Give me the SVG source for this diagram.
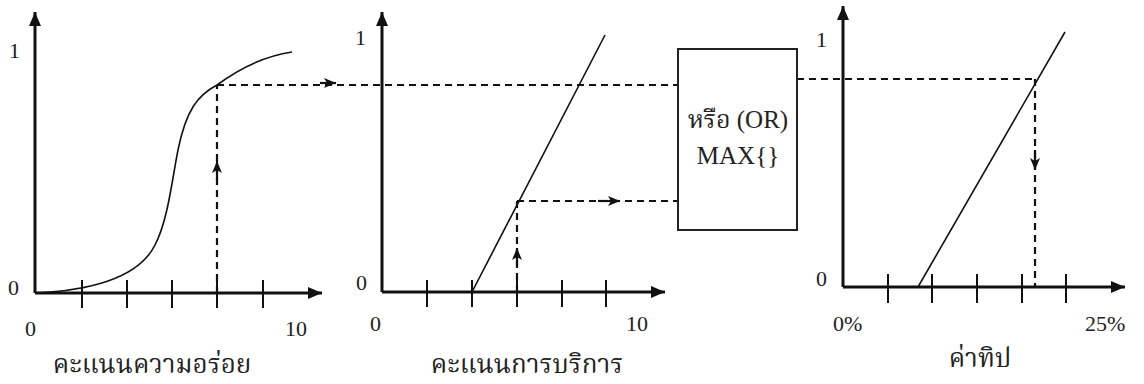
<svg xmlns="http://www.w3.org/2000/svg" width="1144" height="384" viewBox="0 0 1144 384">
<defs>
<marker id="ah" viewBox="0 0 12 10" refX="12" refY="5" markerWidth="12" markerHeight="10" markerUnits="userSpaceOnUse" orient="auto"><path d="M0,0 L12,5 L0,10 L3,5 z" fill="#111"/></marker>
<marker id="ax" viewBox="0 0 14 12" refX="14" refY="6" markerWidth="14" markerHeight="12" markerUnits="userSpaceOnUse" orient="auto"><path d="M0,0 L14,6 L0,12 z" fill="#111"/></marker>
</defs>
<style>
.axis{stroke:#111;stroke-width:3;fill:none}
.tick{stroke:#111;stroke-width:2}
.curve{stroke:#111;stroke-width:1.6;fill:none}
.dash{stroke:#111;stroke-width:2.2;stroke-dasharray:7 5;fill:none}
.arr{stroke:#111;stroke-width:2.2}
.num{font-family:"Liberation Serif","Noto Serif Thai","Noto Sans Thai",serif;font-size:22px;fill:#222}
.title{font-family:"Liberation Serif","Noto Serif Thai","Noto Sans Thai","DejaVu Sans",serif;font-size:26px;fill:#222;text-anchor:middle}
.box{fill:#fff;stroke:#222;stroke-width:2}
.boxtext{font-family:"Liberation Serif","Noto Serif Thai","Noto Sans Thai",serif;font-size:25px;fill:#222;text-anchor:middle}
</style>
<rect width="1144" height="384" fill="#fff"/>

<g id="connectors">
<path class="dash" d="M217,85 H678"/>
<path class="arr" d="M320,83 L336,83" marker-end="url(#ah)"/>
<path class="dash" d="M217,293 V85"/>
<path class="arr" d="M217,180 L217,161" marker-end="url(#ah)"/>
<path class="dash" d="M517,201 H678"/>
<path class="arr" d="M598,201 L620,201" marker-end="url(#ah)"/>
<path class="dash" d="M517,292 V201"/>
<path class="arr" d="M517,266 L517,248" marker-end="url(#ah)"/>
<path class="dash" d="M797,79 H1035"/>
<path class="dash" d="M1035,79 V287"/>
<path class="arr" d="M1035,150 L1035,170" marker-end="url(#ah)"/>
</g>

<g id="chart-taste">
<path class="axis" d="M35,293 V12" marker-end="url(#ax)"/>
<path class="axis" d="M35,293 H322" marker-end="url(#ax)"/>
<path class="tick" d="M82,280 V308 M127,280 V308 M172,280 V308 M217,280 V308 M263,280 V308"/>
<path class="curve" d="M35,293 C100,290 140,275 155,245 C168,220 172,180 178,150 C186,110 198,95 217,85 C240,68 265,56 292,52"/>
<text class="num" x="9" y="58">1</text>
<text class="num" x="8" y="295">0</text>
<text class="num" x="25" y="336">0</text>
<text class="num" x="285" y="336">10</text>
<text class="title" x="152" y="373">คะแนนความอร่อย</text>
</g>

<g id="chart-service">
<path class="axis" d="M382,292 V12" marker-end="url(#ax)"/>
<path class="axis" d="M382,292 H665" marker-end="url(#ax)"/>
<path class="tick" d="M427,280 V307 M472,280 V307 M517,280 V307 M562,280 V307 M606,280 V307"/>
<path class="curve" d="M472,292 L605,35"/>
<text class="num" x="355" y="45">1</text>
<text class="num" x="356" y="290">0</text>
<text class="num" x="370" y="331">0</text>
<text class="num" x="626" y="331">10</text>
<text class="title" x="527" y="373">คะแนนการบริการ</text>
</g>

<g id="or-box">
<rect class="box" x="678" y="49" width="119" height="181"/>
<text class="boxtext" x="738" y="128">หรือ (OR)</text>
<text class="boxtext" x="738" y="164">MAX{}</text>
</g>

<g id="chart-tip">
<path class="axis" d="M843,287 V6" marker-end="url(#ax)"/>
<path class="axis" d="M843,287 H1125" marker-end="url(#ax)"/>
<path class="tick" d="M888,274 V303 M932,274 V303 M977,274 V303 M1022,274 V303 M1066,274 V303"/>
<path class="curve" d="M918,287 L1065,32"/>
<text class="num" x="816" y="47">1</text>
<text class="num" x="816" y="286">0</text>
<text class="num" x="833" y="331">0%</text>
<text class="num" x="1085" y="331">25%</text>
<text class="title" x="980" y="367">ค่าทิป</text>
</g>
</svg>
